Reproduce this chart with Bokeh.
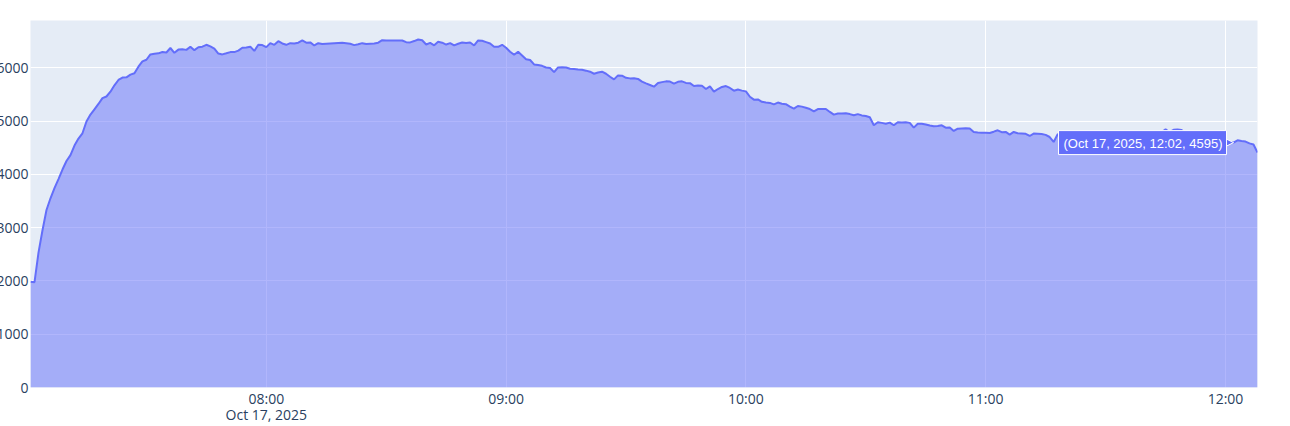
import numpy as np
import pandas as pd
from bokeh.plotting import figure
from bokeh.models import (Range1d, FixedTicker, Label, Arrow, NormalHead)
from bokeh.embed import file_html
from bokeh.resources import INLINE

# ---- data -------------------------------------------------------------
start_time = "2025-10-17 07:01"
values = [
    1985, 1975, 2530, 2950, 3330, 3550, 3740, 3910, 4090, 4250,
    4360, 4540, 4670, 4770, 4990, 5120, 5220, 5320, 5430, 5460,
    5550, 5670, 5770, 5815, 5820, 5870, 5895, 6020, 6120, 6150,
    6250, 6262, 6270, 6295, 6285, 6370, 6280, 6340, 6345, 6335,
    6395, 6330, 6385, 6395, 6430, 6400, 6360, 6265, 6250, 6270,
    6293, 6293, 6320, 6375, 6380, 6395, 6315, 6430, 6425, 6386,
    6461, 6430, 6498, 6455, 6430, 6461, 6455, 6470, 6511, 6470,
    6475, 6418, 6460, 6445, 6450, 6455, 6460, 6465, 6467, 6460,
    6450, 6424, 6440, 6461, 6445, 6450, 6455, 6470, 6517, 6510,
    6510, 6511, 6511, 6511, 6480, 6475, 6500, 6530, 6515, 6436,
    6465, 6420, 6486, 6470, 6435, 6462, 6418, 6450, 6474, 6462,
    6474, 6418, 6511, 6505, 6480, 6455, 6395, 6392, 6430, 6375,
    6300, 6243, 6299, 6230, 6160, 6145, 6062, 6050, 6035, 6005,
    5995, 5918, 6006, 6010, 6005, 5980, 5975, 5965, 5960, 5945,
    5925, 5887, 5910, 5925, 5887, 5830, 5781, 5856, 5850, 5810,
    5800, 5803, 5790, 5738, 5705, 5675, 5644, 5712, 5730, 5744,
    5740, 5700, 5735, 5744, 5715, 5710, 5656, 5665, 5660, 5600,
    5650, 5550, 5600, 5640, 5656, 5620, 5569, 5590, 5570, 5556,
    5455, 5401, 5405, 5360, 5346, 5340, 5313, 5346, 5325, 5315,
    5270, 5232, 5282, 5270, 5250, 5225, 5182, 5225, 5225, 5225,
    5170, 5120, 5140, 5143, 5145, 5130, 5107, 5130, 5105, 5095,
    5070, 4920, 4976, 4965, 4950, 4970, 4920, 4976, 4970, 4975,
    4965, 4876, 4950, 4950, 4935, 4915, 4900, 4905, 4920, 4875,
    4880, 4813, 4857, 4860, 4862, 4860, 4794, 4785, 4780, 4778,
    4775, 4800, 4826, 4790, 4795, 4745, 4795, 4770, 4765, 4760,
    4719, 4765, 4760, 4755, 4740, 4700, 4607, 4751, 4730, 4745,
    4720, 4735, 4710, 4725, 4700, 4715, 4690, 4705, 4700, 4680,
    4695, 4670, 4690, 4680, 4660, 4685, 4670, 4650, 4675, 4665,
    4690, 4720, 4760, 4790, 4845, 4790, 4835, 4840, 4830, 4760,
    4700, 4665, 4650, 4640, 4635, 4620, 4630, 4610, 4600, 4600,
    4605, 4595, 4638, 4625, 4615, 4580, 4560, 4410,
]
times = pd.date_range(start_time, periods=len(values), freq="1min")

x_ticks = ["2025-10-17 08:00", "2025-10-17 09:00", "2025-10-17 10:00",
           "2025-10-17 11:00", "2025-10-17 12:00"]
x_tick_labels = ["08:00\nOct 17, 2025", "09:00", "10:00", "11:00", "12:00"]
y_ticks = [0, 1000, 2000, 3000, 4000, 5000, 6000]

hover_time = "2025-10-17 12:02"
hover_value = 4595
hover_text = "(Oct 17, 2025, 12:02, 4595)"

# ---- styling ----------------------------------------------------------
LINE = "#636efa"
FONT = "Open Sans"
TICK_COLOR = "#2a3f5f"

def ms(t):
    return pd.Timestamp(t).value / 1e6

p = figure(width=1292, height=418, x_axis_type="datetime",
           output_backend="svg", toolbar_location=None,
           x_range=Range1d(ms(times[0]), ms(times[-1])),
           y_range=Range1d(0, 6886),
           min_border_left=40, min_border_right=25,
           min_border_top=12, min_border_bottom=38)
p.margin = (8, 0, 0, -10)

p.background_fill_color = "#E5ECF6"
p.border_fill_color = "white"
p.outline_line_color = None

p.varea(x=times, y1=0, y2=values, fill_color=LINE, fill_alpha=0.5)
p.line(x=times, y=values, line_color=LINE, line_width=2)

# grid
p.xgrid.grid_line_color = "white"
p.ygrid.grid_line_color = "white"
p.xgrid.grid_line_width = 1
p.ygrid.grid_line_width = 1

# axes
tick_ms = [ms(t) for t in x_ticks]
p.xaxis.ticker = FixedTicker(ticks=tick_ms)
p.yaxis.ticker = FixedTicker(ticks=y_ticks)
p.xaxis.major_label_overrides = {t: lab for t, lab in zip(tick_ms, x_tick_labels)}
for ax in (p.xaxis, p.yaxis):
    ax.axis_line_color = None
    ax.major_tick_line_color = None
    ax.minor_tick_line_color = None
    ax.major_tick_out = 0
    ax.major_tick_in = 0
    ax.major_label_text_font = FONT
    ax.major_label_text_font_size = "14px"
    ax.major_label_text_color = TICK_COLOR
p.xaxis.major_label_text_line_height = 0.85
p.yaxis.major_label_standoff = 2
p.xaxis.major_label_standoff = 1

# hover label
hx = ms(hover_time)
p.add_layout(Arrow(end=NormalHead(size=12, fill_color=LINE, line_color="white",
                                  line_width=1),
                   x_start=hx - 120000, y_start=hover_value,
                   x_end=hx, y_end=hover_value, line_alpha=0))
p.add_layout(Label(x=hx, y=hover_value, x_offset=-7, text=hover_text,
                   text_font="Liberation Sans", text_font_size="13px",
                   text_color="white", text_align="right",
                   text_baseline="middle", anchor="center_right",
                   background_fill_color=LINE, border_line_color="white",
                   border_line_width=1, padding=(5, 4, 5, 4)))

open("out.html", "w").write(file_html(p, INLINE))
